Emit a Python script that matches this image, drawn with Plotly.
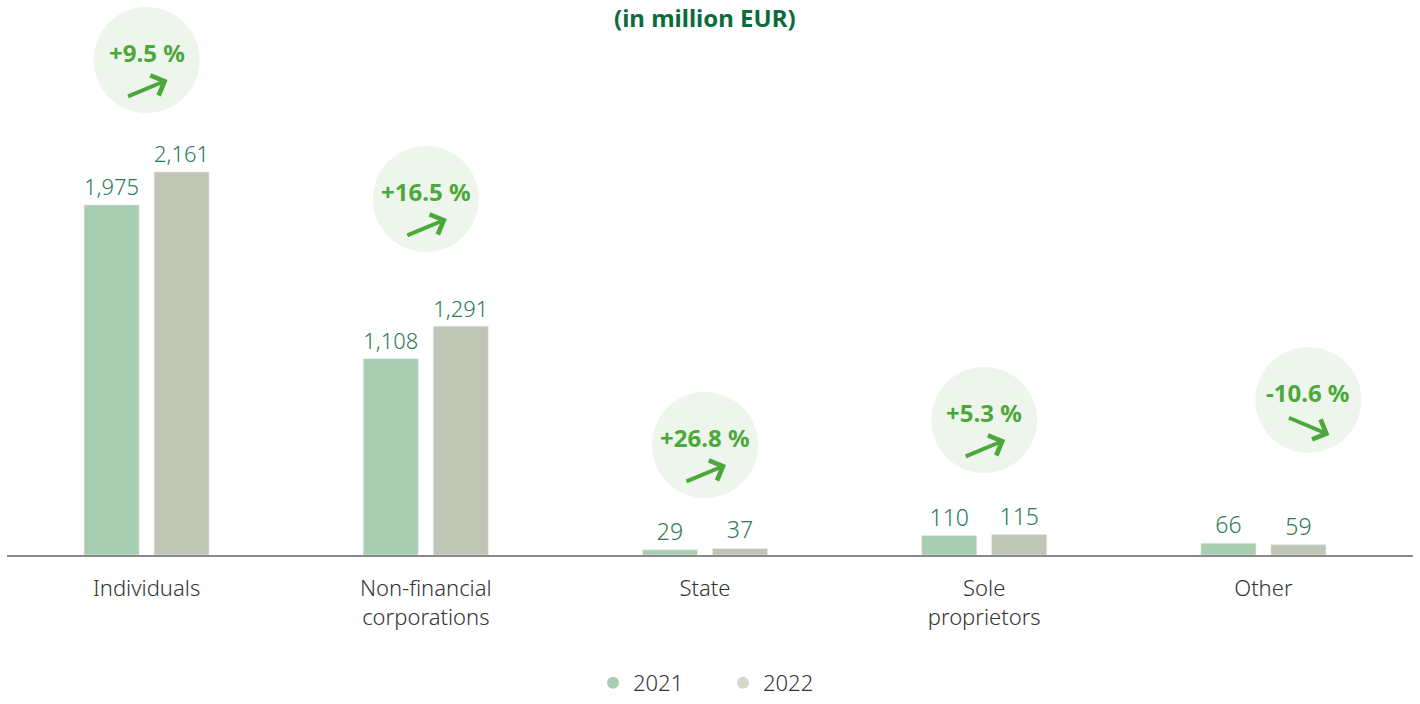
import plotly.graph_objects as go

# Deposits by sector (in million EUR)
categories = ["Individuals", "Non-financial<br>corporations", "State", "Sole<br>proprietors", "Other"]
values_2021 = [1975, 1108, 29, 110, 66]
values_2022 = [2161, 1291, 37, 115, 59]
pct_change = [9.5, 16.5, 26.8, 5.3, -10.6]

COLOR_2021 = "#a9cdb0"
COLOR_2022 = "#c1c5b5"
LABEL_COLOR = "#2b7a55"
BADGE_TEXT = "#4ba83a"
BADGE_FILL = "#eef5ec"
FONT = "Noto Sans, Open Sans, sans-serif"

W, H = 1420, 704
M_L, M_R, M_T, M_B = 7, 7, 0, 149
PLOT_H = H - M_T - M_B
PLOT_W = W - M_L - M_R

# badge placement: vertical centre in pixels from top, horizontal shift from category centre
badge_y_px = [60, 199, 445, 420, 400]
badge_dx_px = [0, 0, 0, 0, 45]
BADGE_R = 53


def paper_y(px):
    return (H - M_B - px) / PLOT_H


def paper_x(px):
    return (px - M_L) / PLOT_W


x_idx = list(range(len(categories)))

fig = go.Figure()
for vals, name, col in [(values_2021, "2021", COLOR_2021), (values_2022, "2022", COLOR_2022)]:
    fig.add_trace(go.Bar(
        x=x_idx, y=vals, name=name, marker_color=col,
        texttemplate="%{y:,}", textposition="outside",
        textfont=dict(color=LABEL_COLOR, size=23, family=FONT, weight=300),
        cliponaxis=False, showlegend=False,
    ))
# round legend markers, one legend box per year
for name, col, leg in [("2021", COLOR_2021, "legend"), ("2022", "#d3d7cc", "legend2")]:
    fig.add_trace(go.Scatter(
        x=[None], y=[None], mode="markers", name=name, legend=leg,
        marker=dict(color=col, size=15, symbol="circle"),
    ))

shapes = []
annotations = []
for i, pct in enumerate(pct_change):
    cy = paper_y(badge_y_px[i])
    dx = badge_dx_px[i]
    shapes.append(dict(
        type="circle", xref="x", yref="paper",
        xsizemode="pixel", ysizemode="pixel",
        xanchor=i, yanchor=cy,
        x0=dx - BADGE_R, x1=dx + BADGE_R, y0=-BADGE_R, y1=BADGE_R,
        fillcolor=BADGE_FILL, line=dict(width=0), layer="below",
    ))
    sign = "+" if pct > 0 else "-"
    annotations.append(dict(
        x=i, y=cy, xref="x", yref="paper", xshift=dx, yshift=8,
        xanchor="center", yanchor="middle",
        text=f"<b>{sign}{abs(pct):.1f} %</b>", showarrow=False,
        font=dict(color=BADGE_TEXT, size=24, family=FONT, weight=800),
    ))
    # arrow head offset from badge centre (px, +down) and tail offset from head
    if pct > 0:
        head = (21, 20)
        tail = (-41, 17)
    else:
        head = (21, 35)
        tail = (-42, -18)
    annotations.append(dict(
        x=i, y=cy, xref="x", yref="paper",
        xshift=dx + head[0], yshift=-head[1],
        text="", showarrow=True, ax=tail[0], ay=tail[1],
        arrowhead=4, arrowsize=1.1, arrowwidth=3.8, arrowcolor=BADGE_TEXT,
        standoff=0, startstandoff=0,
    ))

annotations.append(dict(
    x=paper_x(705), y=paper_y(17), xref="paper", yref="paper",
    xanchor="center", yanchor="middle",
    text="<b>(in million EUR)</b>", showarrow=False,
    font=dict(color="#0b6b3c", size=24, family=FONT, weight=800),
))

legend_style = dict(
    orientation="h", xanchor="left", y=paper_y(704), yanchor="bottom",
    font=dict(size=22, color="#333333", family=FONT, weight=300),
    itemsizing="constant", bgcolor="rgba(0,0,0,0)",
)

span = PLOT_W / 279.2
fig.update_layout(
    width=W, height=H,
    margin=dict(l=M_L, r=M_R, t=M_T, b=M_B, autoexpand=False),
    paper_bgcolor="white", plot_bgcolor="white",
    font=dict(family=FONT, color="#333333", size=21, weight=300),
    barmode="group", bargap=0.4986, bargroupgap=0.214,
    xaxis=dict(
        tickmode="array", tickvals=x_idx, ticktext=categories,
        range=[-0.5, -0.5 + span], showgrid=False, zeroline=False,
        showline=True, linecolor="#8a8a8a", linewidth=2,
        ticks="", ticklabelstandoff=13,
        tickfont=dict(size=22, color="#333333", family=FONT, weight=300),
    ),
    yaxis=dict(range=[0, 2161 * PLOT_H / 383], visible=False, showgrid=False),
    legend=dict(x=paper_x(593), **legend_style),
    legend2=dict(x=paper_x(723), **legend_style),
    shapes=shapes, annotations=annotations,
)

fig.write_html("out.html")
